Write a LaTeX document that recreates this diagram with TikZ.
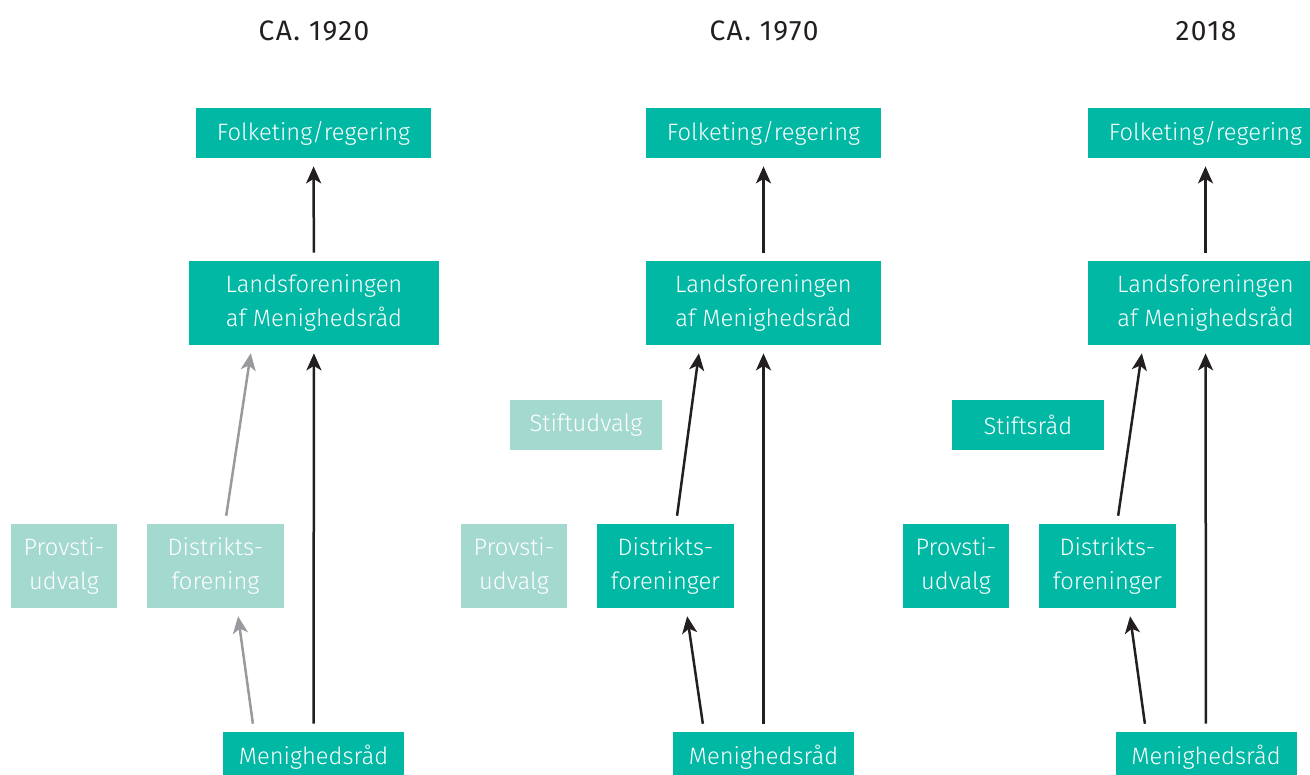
\documentclass[tikz,border=0pt]{standalone}
\usepackage{fontspec}
\setmainfont{Fira Sans}[UprightFont={* Light}, BoldFont={* Regular}]
\usepackage{tikz}
\usepackage{xcolor}
\usetikzlibrary{arrows.meta, positioning, calc}

\definecolor{tealdark}{HTML}{00B8A4}
\definecolor{teallight}{HTML}{A3D9CF}
\definecolor{arrowdark}{HTML}{231F20}
\definecolor{arrowgrey}{HTML}{999A9E}

\begin{document}
\begin{tikzpicture}[x=0.2mm, y=-0.2mm,
    box/.style={fill=tealdark, text=white, inner sep=0pt, align=center, font=\fontsize{13.5}{19.9}\selectfont},
    faded/.style={box, fill=teallight},
    wide/.style={minimum width=47mm, minimum height=10mm},
    tall/.style={minimum height=16.8mm},
    uparrow/.style={-{Stealth[length=3.4mm, width=3mm, inset=0.9mm]}, line width=0.5mm, arrowdark, shorten <=1.6mm, shorten >=1.6mm},
    greyarrow/.style={uparrow, arrowgrey},
    era/.style={text=arrowdark, font=\fontsize{16}{19}\bfseries\addfontfeature{LetterSpace=5}}]
    \useasboundingbox (0,0) rectangle (1310,774);

    % Era headings
    \node[era] (era1) at (314, 31) {CA. 1920};
    \node[era] (era2) at (764, 31) {CA. 1970};
    \node[era] (era3) at (1206, 31) {2018};

    % Ca. 1920
    \node[box, wide] (folk1) at (313.5, 133) {Folketing/regering};
    \node[box, tall, minimum width=50mm] (land1) at (314, 303) {Landsforeningen\\af Menighedsråd};
    \node[faded, tall, minimum width=21.2mm] (prov1) at (64, 566) {Provsti-\\udvalg};
    \node[faded, tall, minimum width=27.4mm] (distr1) at (215.5, 566) {Distrikts-\\forening};
    \node[box, minimum width=36.2mm, minimum height=10mm] (menig1) at (313.5, 757) {Menighedsråd};

    \draw[uparrow] (land1) -- (folk1);
    \draw[uparrow] (menig1) -- (land1);
    \draw[greyarrow] ([xshift=1.9mm]distr1.north) -- ([xshift=-12.4mm]land1.south);
    \draw[greyarrow] ([xshift=-11.9mm]menig1.north) -- ([xshift=4.3mm]distr1.south);

    % Ca. 1970
    \node[box, wide] (folk2) at (763.5, 133) {Folketing/regering};
    \node[box, wide, tall] (land2) at (763.5, 303) {Landsforeningen\\af Menighedsråd};
    \node[faded, minimum width=30.4mm, minimum height=10mm] (stift2) at (586, 425) {Stiftudvalg};
    \node[faded, tall, minimum width=21.2mm] (prov2) at (514, 566) {Provsti-\\udvalg};
    \node[box, tall, minimum width=27.4mm] (distr2) at (665.5, 566) {Distrikts-\\foreninger};
    \node[box, minimum width=36.2mm, minimum height=10mm] (menig2) at (763.5, 757) {Menighedsråd};

    \draw[uparrow] (land2) -- (folk2);
    \draw[uparrow] (menig2) -- (land2);
    \draw[uparrow] ([xshift=2.1mm]distr2.north) -- ([xshift=-12.7mm]land2.south);
    \draw[uparrow] ([xshift=-11.9mm]menig2.north) -- ([xshift=4.1mm]distr2.south);

    % 2018
    \node[box, wide] (folk3) at (1205.5, 133) {Folketing/regering};
    \node[box, wide, tall] (land3) at (1205.5, 303) {Landsforeningen\\af Menighedsråd};
    \node[box, minimum width=30.4mm, minimum height=10mm] (stift3) at (1028, 425) {Stiftsråd};
    \node[box, tall, minimum width=21.2mm] (prov3) at (956, 566) {Provsti-\\udvalg};
    \node[box, tall, minimum width=27.4mm] (distr3) at (1107.5, 566) {Distrikts-\\foreninger};
    \node[box, minimum width=36.2mm, minimum height=10mm] (menig3) at (1206, 757) {Menighedsråd};

    \draw[uparrow] (land3) -- (folk3);
    \draw[uparrow] (menig3) -- (land3);
    \draw[uparrow] ([xshift=1.9mm]distr3.north) -- ([xshift=-12.5mm]land3.south);
    \draw[uparrow] ([xshift=-12mm]menig3.north) -- ([xshift=4.3mm]distr3.south);
\end{tikzpicture}
\end{document}
